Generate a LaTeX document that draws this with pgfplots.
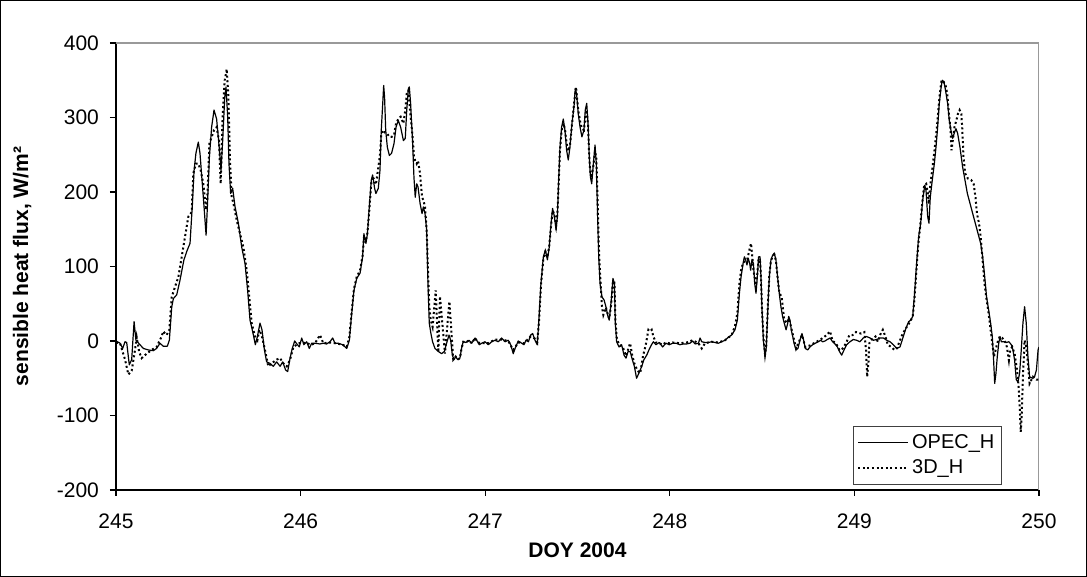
\documentclass[border=0pt]{standalone}
\usepackage{fontspec}
\setmainfont{Liberation Sans}
\usepackage{pgfplots}
\usepackage{pgfplotstable}
\pgfplotsset{compat=1.18}

\pgfplotstableread{
x y
245.000 0
245.022 -3
245.036 -10
245.049 -1
245.058 -2
245.072 -32
245.085 -25
245.098 26
245.108 1
245.130 -5
245.148 -10
245.175 -12
245.202 -13
245.220 -10
245.238 -3
245.256 -7
245.278 -7
245.289 1
245.302 46
245.311 57
245.329 62
245.347 82
245.368 109
245.386 122
245.401 131
245.412 176
245.423 229
245.433 252
245.446 267
245.455 252
245.466 216
245.477 180
245.488 142
245.495 180
245.506 247
245.518 287
245.531 310
245.545 298
245.556 269
245.569 229
245.578 269
245.589 327
245.596 341
245.605 301
245.612 238
245.621 198
245.632 205
245.645 180
245.663 158
245.681 126
245.699 104
245.713 68
245.726 28
245.740 13
245.755 -5
245.766 6
245.780 24
245.791 15
245.804 -12
245.816 -28
245.834 -30
245.852 -34
245.870 -28
245.889 -34
245.903 -28
245.919 -39
245.930 -41
245.943 -23
245.955 -10
245.968 0
245.980 -4
245.993 -8
246.006 4
246.018 -5
246.033 -1
246.047 -10
246.060 -3
246.078 -3
246.105 -4
246.123 -3
246.141 -4
246.159 -1
246.174 4
246.186 -3
246.204 -3
246.228 -5
246.250 -10
246.264 1
246.277 37
246.289 68
246.304 84
246.322 91
246.336 113
246.343 144
246.354 131
246.362 144
246.372 180
246.383 216
246.390 223
246.401 205
246.408 198
246.421 205
246.430 229
246.437 283
246.445 319
246.450 343
246.455 327
246.461 283
246.470 260
246.481 249
246.493 252
246.506 265
246.517 287
246.529 296
246.542 287
246.557 269
246.567 272
246.575 310
246.584 339
246.589 341
246.596 319
246.607 265
246.614 220
246.621 193
246.629 211
246.636 207
246.647 185
246.658 171
246.665 180
246.674 171
246.683 149
246.690 77
246.697 24
246.706 10
246.715 -1
246.728 -10
246.746 -14
246.764 -17
246.779 -14
246.791 -3
246.804 8
246.813 1
246.822 -19
246.831 -25
246.840 -21
246.851 -25
246.863 -23
246.872 -10
246.881 -1
246.896 -2
246.912 1
246.927 -3
246.945 4
246.954 1
246.968 -5
246.981 -3
246.999 -1
247.017 -5
247.035 -1
247.053 1
247.071 -1
247.089 4
247.107 -1
247.125 1
247.138 -5
247.152 -17
247.165 -8
247.179 0
247.198 -3
247.210 -5
247.221 1
247.234 -1
247.246 8
247.257 10
247.270 1
247.282 -5
247.291 28
247.302 77
247.315 113
247.326 122
247.337 109
247.347 126
247.355 153
247.365 178
247.375 167
247.384 149
247.391 167
247.398 216
247.405 260
247.414 287
247.423 298
247.432 283
247.441 256
247.450 243
247.459 260
247.470 292
247.481 314
247.488 339
247.495 332
247.504 305
247.514 287
247.524 274
247.535 283
247.542 310
247.550 319
247.557 292
247.564 247
247.570 220
247.577 211
247.586 238
247.595 263
247.602 238
247.609 167
247.615 113
247.622 77
247.633 59
247.644 55
247.654 46
247.665 33
247.672 28
247.683 55
247.692 84
247.700 77
247.705 24
247.712 -1
247.725 -8
247.739 -5
247.752 -19
247.763 -23
247.774 -14
247.785 -14
247.797 -25
247.808 -34
247.820 -50
247.833 -43
247.848 -34
247.860 -25
247.875 -19
247.887 -12
247.901 -5
247.911 -1
247.925 -5
247.943 -2
247.961 -8
247.979 -3
247.997 -5
248.016 -3
248.034 -3
248.055 -5
248.073 -4
248.091 -4
248.109 -3
248.124 0
248.137 -4
248.155 -3
248.164 4
248.173 -1
248.191 -2
248.209 -2
248.227 -1
248.245 -2
248.263 -3
248.281 -1
248.299 1
248.317 5
248.335 8
248.353 15
248.366 28
248.377 64
248.386 86
248.397 104
248.404 113
248.411 109
248.418 102
248.425 111
248.433 104
248.438 95
248.445 109
248.453 104
248.460 77
248.467 64
248.474 86
248.481 113
248.489 113
248.494 86
248.499 46
248.507 1
248.516 -21
248.523 -8
248.530 37
248.539 86
248.548 109
248.557 115
248.566 118
248.575 109
248.584 86
248.593 64
248.602 46
248.611 33
248.620 24
248.630 15
248.639 24
248.644 33
248.651 28
248.658 15
248.666 6
248.673 -3
248.684 -12
248.694 -10
248.705 1
248.716 10
248.725 1
248.734 -10
248.747 -12
248.759 -8
248.774 -5
248.788 -3
248.805 -1
248.817 1
248.828 -1
248.841 0
248.853 2
248.868 4
248.882 -1
248.895 -4
248.908 -8
248.919 -14
248.931 -19
248.944 -12
248.958 -5
248.976 -1
248.994 2
249.012 1
249.030 -1
249.048 4
249.066 6
249.085 4
249.103 1
249.121 2
249.139 4
249.157 4
249.175 1
249.193 -1
249.211 -5
249.229 -10
249.247 -8
249.265 6
249.279 17
249.294 26
249.305 28
249.316 33
249.326 64
249.337 104
249.348 140
249.359 158
249.370 189
249.381 209
249.388 202
249.397 167
249.404 158
249.411 193
249.422 216
249.433 238
249.442 260
249.451 287
249.460 319
249.469 339
249.476 350
249.485 348
249.494 336
249.505 319
249.514 296
249.523 283
249.532 272
249.541 279
249.550 285
249.559 279
249.572 260
249.586 234
249.599 216
249.612 198
249.626 185
249.641 171
249.655 158
249.670 144
249.684 131
249.695 113
249.706 86
249.716 59
249.727 42
249.738 24
249.747 6
249.754 -25
249.760 -57
249.767 -43
249.774 -21
249.782 -3
249.789 6
249.796 -1
249.808 -1
249.823 -2
249.837 -1
249.850 -5
249.859 -12
249.868 -26
249.877 -52
249.886 -55
249.895 -43
249.904 -12
249.913 24
249.922 46
249.931 24
249.940 -21
249.949 -48
249.964 -50
249.976 -48
249.986 -39
249.995 -12
250.000 -8
}\opec

\pgfplotstableread{
x y
245.000 -2
245.022 -3
245.049 -25
245.067 -45
245.085 -40
245.103 -12
245.112 5
245.126 -15
245.139 -23
245.166 -17
245.193 -12
245.220 -8
245.247 6
245.256 13
245.274 8
245.289 15
245.302 59
245.320 73
245.338 86
245.356 113
245.374 140
245.392 167
245.410 173
245.419 225
245.433 238
245.446 238
245.459 229
245.473 211
245.488 176
245.495 193
245.506 265
245.518 274
245.531 283
245.545 287
245.558 269
245.567 211
245.578 305
245.589 350
245.600 365
245.609 327
245.618 238
245.627 193
245.636 185
245.654 162
245.672 144
245.690 126
245.708 95
245.722 59
245.735 24
245.753 6
245.766 1
245.776 15
245.789 8
245.807 -12
245.825 -34
245.843 -30
245.870 -25
245.889 -23
245.906 -30
245.925 -34
245.943 -25
245.961 -8
245.979 -5
245.993 -3
246.006 -2
246.033 -3
246.060 -5
246.078 -3
246.105 8
246.123 -3
246.159 -2
246.186 -3
246.228 -5
246.250 -8
246.264 5
246.277 40
246.289 70
246.304 86
246.322 95
246.336 115
246.343 138
246.354 135
246.362 145
246.372 175
246.383 212
246.390 221
246.401 215
246.408 210
246.421 233
246.430 250
246.437 278
246.445 283
246.455 280
246.470 278
246.481 274
246.493 274
246.506 276
246.517 292
246.529 298
246.542 301
246.557 292
246.567 310
246.575 332
246.584 336
246.596 301
246.607 274
246.614 247
246.621 242
246.629 238
246.636 242
246.647 225
246.658 193
246.665 189
246.674 180
246.683 149
246.690 95
246.697 46
246.705 28
246.715 19
246.732 68
246.746 -15
246.755 60
246.782 -17
246.806 53
246.827 -25
246.840 -21
246.851 -25
246.863 -23
246.872 -10
246.881 -1
246.896 -2
246.912 1
246.927 -3
246.945 4
246.960 -2
246.981 -3
247.017 -3
247.053 2
247.089 2
247.125 0
247.152 -12
247.179 -2
247.210 -3
247.246 6
247.270 3
247.282 -2
247.291 25
247.302 75
247.315 110
247.326 120
247.337 112
247.347 128
247.355 150
247.365 175
247.375 170
247.384 155
247.391 170
247.398 212
247.405 255
247.414 282
247.423 292
247.432 285
247.441 265
247.450 255
247.459 262
247.470 290
247.481 318
247.492 341
247.504 310
247.514 295
247.524 285
247.535 283
247.542 300
247.550 310
247.557 290
247.564 245
247.570 225
247.577 222
247.586 235
247.595 255
247.602 245
247.609 190
247.615 130
247.622 90
247.633 45
247.640 35
247.654 45
247.665 35
247.672 30
247.683 50
247.692 80
247.700 80
247.705 30
247.712 5
247.725 -5
247.745 -8
247.763 -20
247.785 -3
247.797 -20
247.808 -30
247.825 -40
247.840 -43
247.855 -20
247.870 -5
247.884 15
247.893 13
247.902 15
247.911 6
247.925 -2
247.943 -3
247.961 -5
247.979 -2
247.997 -3
248.016 -2
248.055 -3
248.091 -2
248.124 1
248.155 -3
248.173 -10
248.191 -3
248.227 -1
248.263 -2
248.299 1
248.335 8
248.353 20
248.366 37
248.377 77
248.386 95
248.397 105
248.410 108
248.420 110
248.431 122
248.440 131
248.447 113
248.453 95
248.460 85
248.467 75
248.474 90
248.481 110
248.489 108
248.494 85
248.499 46
248.507 5
248.516 -18
248.523 -5
248.530 40
248.539 88
248.548 108
248.557 113
248.566 116
248.575 108
248.584 85
248.593 65
248.606 59
248.620 28
248.633 24
248.644 30
248.651 25
248.669 6
248.684 -10
248.705 2
248.716 8
248.734 -8
248.759 -6
248.788 -2
248.817 2
248.850 8
248.868 13
248.882 0
248.900 -3
248.919 -12
248.931 -12
248.955 -3
248.973 8
248.991 8
249.009 12
249.036 10
249.054 12
249.063 -12
249.069 -48
249.076 -30
249.081 -3
249.090 1
249.099 3
249.114 6
249.127 -1
249.139 8
249.154 15
249.168 6
249.181 -5
249.199 -8
249.217 -12
249.230 -10
249.244 -1
249.262 10
249.284 19
249.302 26
249.316 33
249.325 55
249.335 91
249.345 127
249.356 153
249.367 184
249.378 209
249.389 211
249.398 198
249.403 184
249.410 207
249.421 229
249.434 256
249.447 287
249.461 328
249.472 350
249.483 348
249.494 343
249.503 332
249.512 305
249.521 283
249.526 256
249.533 269
249.542 287
249.552 296
249.561 305
249.570 310
249.579 305
249.584 287
249.591 247
249.600 225
249.615 218
249.633 216
249.646 211
249.656 193
249.664 171
249.675 158
249.684 140
249.696 104
249.705 77
249.714 59
249.725 41
249.736 19
249.747 -3
249.756 -21
249.765 -12
249.774 -3
249.787 6
249.801 4
249.814 1
249.826 -8
249.837 -26
249.844 -12
249.855 -8
249.868 -17
249.881 -39
249.888 -57
249.895 -84
249.901 -122
249.906 -102
249.913 -48
249.922 1
249.931 -8
249.940 -30
249.949 -57
249.967 -48
249.986 -52
250.000 -52
}\threed

\begin{document}
\begin{tikzpicture}
\begin{axis}[
  scale only axis,
  width=461.5pt, height=223.5pt,
  xmin=245, xmax=250, ymin=-200, ymax=400,
  xtick={245,246,247,248,249,250},
  ytick={-200,-100,0,100,200,300,400},
  axis lines*=left,
  axis line style={black, line width=0.6pt},
  tick align=outside,
  major tick length=3pt,
  tick style={black, line width=0.6pt},
  /pgf/number format/assume math mode=true,
  /pgf/number format/1000 sep={},
  ticklabel style={font=\fontsize{10.5}{12}\selectfont},
  xticklabel style={yshift=-5.5pt},
  yticklabel style={xshift=-2pt},
  every axis x label/.style={at={(axis description cs:0.5,0)}, anchor=center, yshift=-30pt},
  every axis y label/.style={at={(axis description cs:-0.1018,0.5)}, rotate=90, anchor=center},
  xlabel={\fontsize{10.5}{12}\selectfont\bfseries DOY 2004},
  ylabel={\fontsize{10.5}{12}\selectfont\bfseries sensible heat flux, W/m²},
  legend style={at={(443pt,2.5pt)}, anchor=south east, draw=black!75, line width=0.6pt,
    fill=white, font=\fontsize{10}{12}\selectfont, inner xsep=2pt, inner ysep=2pt,
    row sep=0pt, nodes={inner sep=1.5pt, text height=7.5pt, text depth=2pt}},
  legend cell align=left,
  legend image code/.code={\draw[#1] (0pt,0pt) -- (25pt,0pt);},
  execute at begin axis={\draw[black!40, line width=0.8pt] (rel axis cs:0,1) -- (rel axis cs:1,1) -- (rel axis cs:1,0);},
]
\addplot[black, line width=0.6pt, line join=round] table[x=x,y=y] {\opec};
\addlegendentry{OPEC\_H}
\addplot[black, line width=1.0pt, dash pattern=on 1pt off 1.3pt] table[x=x,y=y] {\threed};
\addlegendentry{3D\_H}
\end{axis}
\draw[black, line width=0.5pt] (-57.75pt,-43.25pt) rectangle (485.25pt,244.75pt);
\end{tikzpicture}
\end{document}
